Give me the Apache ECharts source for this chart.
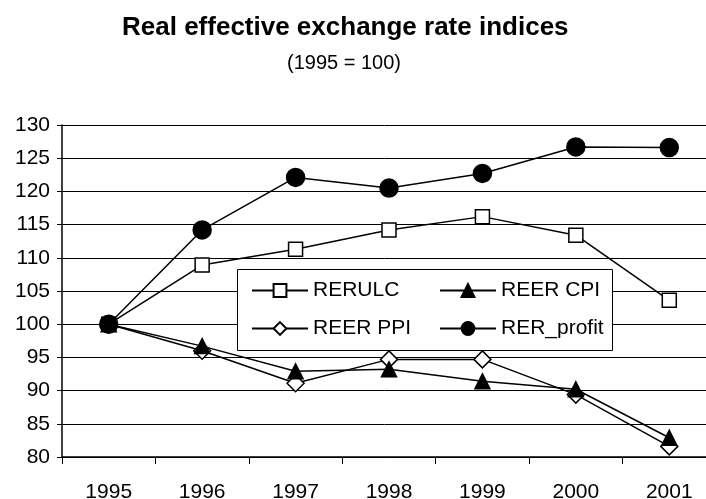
<!DOCTYPE html>
<html>
<head>
<meta charset="utf-8">
<script src="https://cdn.jsdelivr.net/npm/echarts@6/dist/echarts.min.js"></script>
<style>
  html, body { margin: 0; padding: 0; background: #fff; }
  #chart { width: 706px; height: 499px; }
</style>
</head>
<body>
<div id="chart"></div>
<script>
const years = ['1995', '1996', '1997', '1998', '1999', '2000', '2001']
const rerulc = [100, 108.9, 111.3, 114.2, 116.2, 113.4, 103.6]
const reerCpi = [100, 96.7, 92.9, 93.2, 91.4, 90.2, 82.9]
const reerPpi = [100, 96.0, 91.1, 94.7, 94.7, 89.4, 81.6]
const rerProfit = [100, 114.2, 122.1, 120.5, 122.7, 126.7, 126.6]

const font = 'Liberation Sans, Arial, sans-serif'

const chart = echarts.init(document.getElementById('chart'))

function lineSeries(name, data, symbol, size, fill, z) {
  return {
    name,
    type: 'line',
    data,
    z,
    symbol,
    symbolSize: size,
    showAllSymbol: true,
    animation: false,
    lineStyle: { color: '#000', width: 1.5 },
    itemStyle: { color: fill, borderColor: '#000', borderWidth: 1.5 },
    emphasis: { disabled: true }
  }
}

function legendAt(name, left, top) {
  return {
    data: [name],
    left,
    top,
    padding: 0,
    itemWidth: 56,
    itemHeight: 16,
    selectedMode: false,
    textStyle: { fontFamily: font, fontSize: 21, color: '#000' }
  }
}

chart.setOption({
  backgroundColor: '#fff',
  animation: false,
  title: [
    {
      text: 'Real effective exchange rate indices',
      left: 117,
      top: 10,
      textStyle: { fontFamily: font, fontSize: 26, fontWeight: 'bold', color: '#000' }
    },
    {
      text: '(1995 = 100)',
      left: 282,
      top: 48,
      textStyle: { fontFamily: font, fontSize: 20, fontWeight: 'normal', color: '#000' }
    }
  ],
  grid: { left: 62, right: -10, top: 125, bottom: 42, containLabel: false, outerBoundsMode: 'none' },
  xAxis: {
    type: 'category',
    data: years,
    boundaryGap: true,
    axisLine: { lineStyle: { color: '#000', width: 1.5 } },
    axisTick: { show: true, length: 7, lineStyle: { color: '#000', width: 1 } },
    axisLabel: { color: '#000', fontFamily: font, fontSize: 21, margin: 25 },
    splitLine: { show: false }
  },
  yAxis: {
    type: 'value',
    min: 80,
    max: 130,
    interval: 5,
    axisLine: { show: true, lineStyle: { color: '#000', width: 1.5 } },
    axisTick: { show: true, length: 5, lineStyle: { color: '#000', width: 1 } },
    axisLabel: { color: '#000', fontFamily: font, fontSize: 21, margin: 12 },
    splitLine: { lineStyle: { color: '#000', width: 1 } }
  },
  legend: [
    legendAt('RERULC', 251, 280),
    legendAt('REER CPI', 439, 280),
    legendAt('REER PPI', 251, 318),
    legendAt('RER_profit', 439, 318)
  ],
  graphic: [
    {
      type: 'rect',
      z: 3,
      shape: { x: 237.5, y: 269.5, width: 375, height: 81 },
      style: { fill: '#fff', stroke: '#000', lineWidth: 1 }
    }
  ],
  series: [
    lineSeries('RERULC', rerulc, 'rect', 14, '#fff', 2),
    lineSeries('REER PPI', reerPpi, 'diamond', 17, '#fff', 2.2),
    lineSeries('REER CPI', reerCpi, 'triangle', 15, '#000', 2.4),
    lineSeries('RER_profit', rerProfit, 'circle', 18, '#000', 2.6)
  ]
})
</script>
</body>
</html>
